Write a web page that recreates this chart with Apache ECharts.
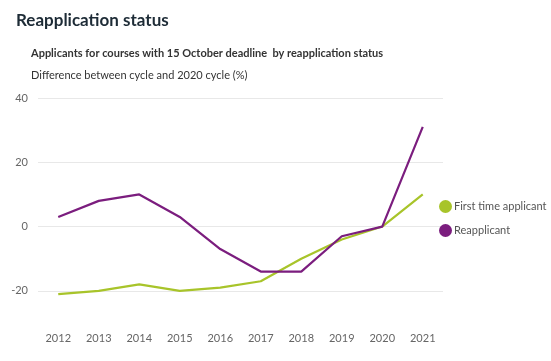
<!DOCTYPE html>
<html><head><meta charset="utf-8">
<script src="https://cdn.jsdelivr.net/npm/echarts@6/dist/echarts.min.js"></script>
<style>html,body{margin:0;padding:0;background:#fff}#c{width:551px;height:361px}</style>
</head><body><div id="c"></div>
<script>
const years = ['2012','2013','2014','2015','2016','2017','2018','2019','2020','2021'];
const firstTime = [-21, -20, -18, -20, -19, -17, -10, -4, 0, 10];
const reapplicant = [3, 8, 10, 3, -7, -14, -14, -3, 0, 31];
const yTicks = [-20, 0, 20, 40];
const seriesNames = ['First time applicant', 'Reapplicant'];

const chart = echarts.init(document.getElementById('c'));
const FONT = 'Lato';
chart.setOption({
  animation: false,
  title: [
    {text: 'Reapplication status', left: 11, top: 7, textStyle: {fontFamily: FONT, fontSize: 17, fontWeight: 'bold', color: '#1d2b36'}},
    {text: 'Applicants for courses with 15 October deadline  by reapplication status', left: 26, top: 43, textStyle: {fontFamily: FONT, fontSize: 11, fontWeight: 'bold', color: '#333'}},
    {text: 'Difference between cycle and 2020 cycle (%)', left: 26, top: 65, textStyle: {fontFamily: FONT, fontSize: 11, fontWeight: 'normal', color: '#333'}}
  ],
  legend: {
    orient: 'vertical', left: 434, top: 195, itemGap: 11,
    icon: 'circle', itemWidth: 13, itemHeight: 13,
    textStyle: {fontFamily: FONT, fontSize: 11, color: '#555', padding: [0,0,0,-3]},
    data: seriesNames
  },
  grid: {left: 38, right: 108, top: 98, bottom: 38},
  xAxis: {
    type: 'category', data: years, boundaryGap: true,
    axisLine: {show: false}, axisTick: {show: false},
    axisLabel: {fontFamily: FONT, fontSize: 11, color: '#666', margin: 10}
  },
  yAxis: {
    type: 'value', min: -30, max: 40,
    axisLine: {show: false},
    axisTick: {show: false, customValues: yTicks},
    axisLabel: {fontFamily: FONT, fontSize: 11, color: '#666', margin: 10, customValues: yTicks},
    splitLine: {show: true, lineStyle: {color: '#e8e8e8', width: 1}}
  },
  series: [
    {name: seriesNames[0], type: 'line', data: firstTime, symbol: 'none', lineStyle: {width: 2.2, color: '#a8c42a'}, itemStyle: {color: '#a8c42a'}},
    {name: seriesNames[1], type: 'line', data: reapplicant, symbol: 'none', lineStyle: {width: 2.2, color: '#7b1d7e'}, itemStyle: {color: '#7b1d7e'}}
  ]
});
</script></body></html>
